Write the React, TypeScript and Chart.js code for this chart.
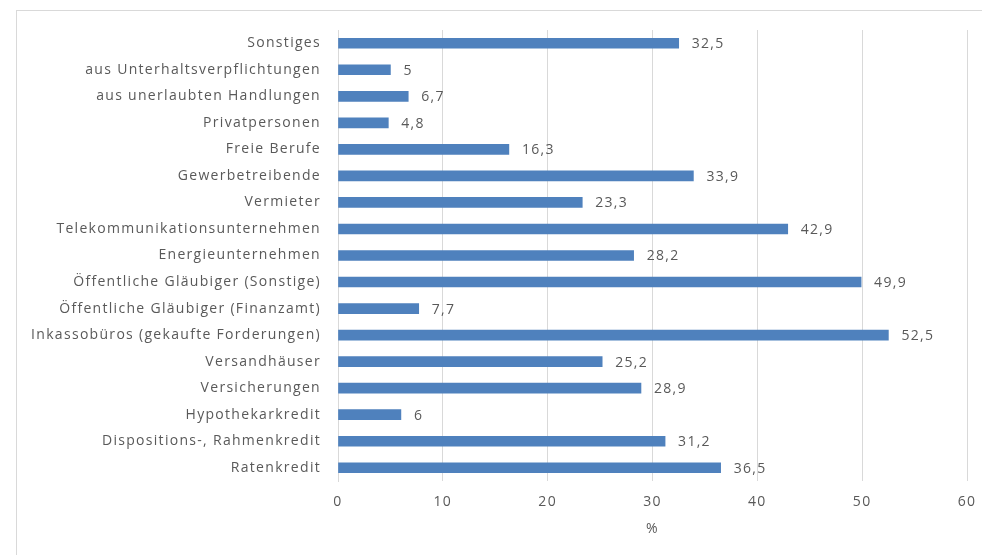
import React, { useEffect, useRef } from "react";
import { Chart, registerables } from "chart.js";

Chart.register(...registerables);

const categories = [
  "Sonstiges",
  "aus Unterhaltsverpflichtungen",
  "aus unerlaubten Handlungen",
  "Privatpersonen",
  "Freie Berufe",
  "Gewerbetreibende",
  "Vermieter",
  "Telekommunikationsunternehmen",
  "Energieunternehmen",
  "Öffentliche Gläubiger (Sonstige)",
  "Öffentliche Gläubiger (Finanzamt)",
  "Inkassobüros (gekaufte Forderungen)",
  "Versandhäuser",
  "Versicherungen",
  "Hypothekarkredit",
  "Dispositions-, Rahmenkredit",
  "Ratenkredit",
];

const values = [32.5, 5, 6.7, 4.8, 16.3, 33.9, 23.3, 42.9, 28.2, 49.9, 7.7, 52.5, 25.2, 28.9, 6, 31.2, 36.5];

const axisTitle = "%";
const xMin = 0;
const xMax = 60;
const xStep = 10;

const FONT = "'Open Sans', 'Liberation Sans', sans-serif";
const TEXT = "#595959";
const SPACING = "1.3px";

const fmt = (v: number) => String(v).replace(".", ",");

const spacingPlugin = {
  id: "spacing",
  beforeDraw(chart: any) {
    chart.ctx.letterSpacing = SPACING;
  },
};

const valueLabels = {
  id: "valueLabels",
  afterDatasetsDraw(chart: any) {
    const ctx = chart.ctx;
    const meta = chart.getDatasetMeta(0);
    ctx.save();
    ctx.letterSpacing = SPACING;
    ctx.font = `14px ${FONT}`;
    ctx.fillStyle = TEXT;
    ctx.textAlign = "left";
    ctx.textBaseline = "middle";
    meta.data.forEach((bar: any, i: number) => {
      ctx.fillText(fmt(values[i]), bar.x + 13, bar.y + 1);
    });
    ctx.restore();
  },
};

export default function App() {
  const ref = useRef<HTMLCanvasElement | null>(null);
  useEffect(() => {
    if (!ref.current) return;
    const chart = new Chart(ref.current, {
      type: "bar",
      data: {
        labels: categories,
        datasets: [
          {
            data: values,
            backgroundColor: "#4f81bd",
            borderWidth: 0,
            barThickness: 10,
          },
        ],
      },
      options: {
        indexAxis: "y",
        animation: false,
        responsive: false,
        maintainAspectRatio: false,
        layout: { padding: { left: 0, right: 15, top: 30, bottom: 0 } },
        plugins: { legend: { display: false }, tooltip: { enabled: false } },
        scales: {
          x: {
            min: xMin,
            max: xMax,
            ticks: {
              stepSize: xStep,
              color: TEXT,
              font: { family: FONT, size: 14 },
              padding: 13,
            },
            grid: { color: "#d9d9d9", drawTicks: false, lineWidth: 1 },
            border: { display: false },
            title: {
              display: true,
              text: axisTitle,
              color: TEXT,
              font: { family: FONT, size: 14 },
              padding: { top: 0, bottom: 18 },
            },
            afterFit: (s: any) => {
              s.height = 74;
              s.paddingRight = 0;
              s.paddingLeft = 0;
            },
          },
          y: {
            ticks: {
              color: TEXT,
              font: { family: FONT, size: 14 },
              padding: 17,
              autoSkip: false,
            },
            grid: { display: false, drawTicks: false },
            border: { display: true, color: "#d9d9d9" },
            afterFit: (s: any) => {
              s.width = 338;
              s.paddingTop = 0;
              s.paddingBottom = 0;
            },
          },
        },
      },
      plugins: [spacingPlugin, valueLabels],
    });
    return () => chart.destroy();
  }, []);

  return (
    <div style={{ position: "fixed", left: 0, top: 0, width: 982, height: 555, overflow: "hidden", background: "#fff" }}>
      <div
        style={{
          position: "absolute",
          left: 16,
          top: 10,
          width: 1000,
          height: 600,
          border: "1px solid #d9d9d9",
          boxSizing: "border-box",
        }}
      />
      <canvas ref={ref} width={982} height={555} style={{ position: "absolute", left: 0, top: 0, width: 982, height: 555 }} />
    </div>
  );
}
